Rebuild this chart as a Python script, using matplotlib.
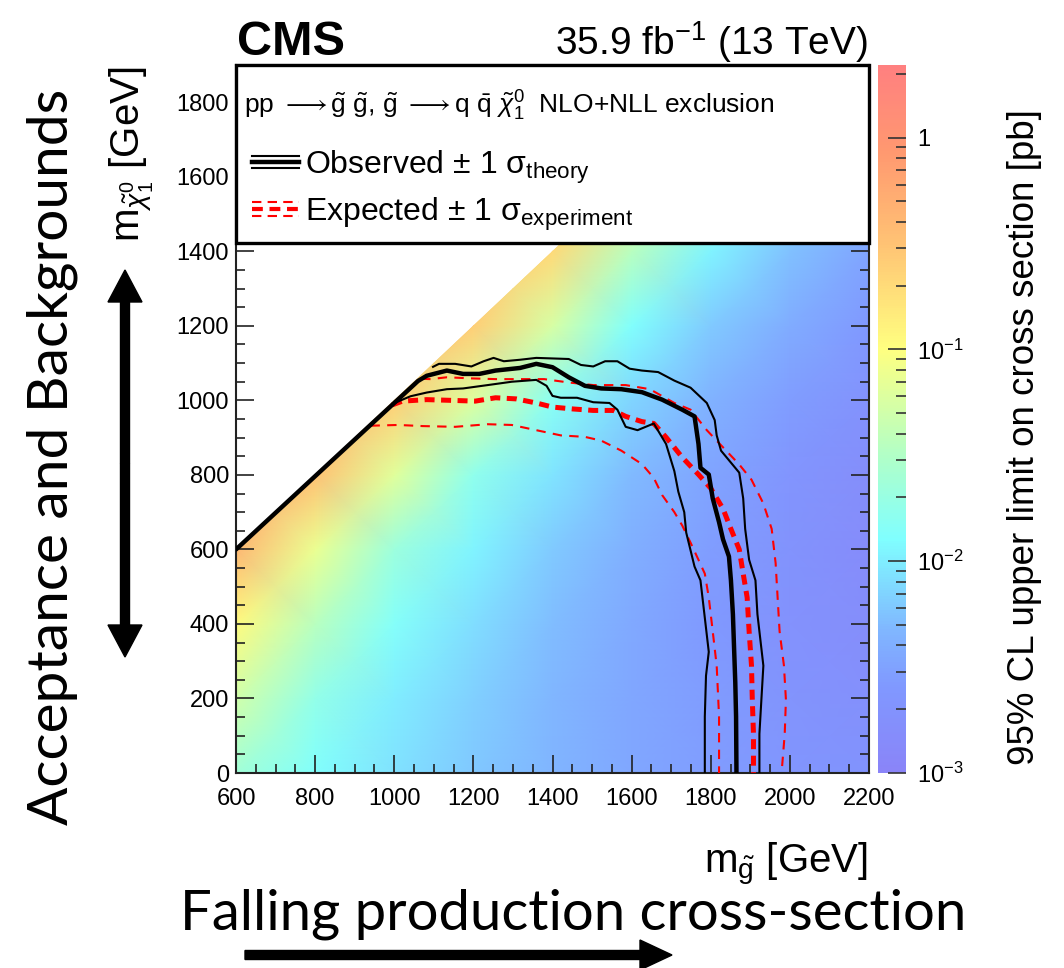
import numpy as np
import matplotlib
matplotlib.use("Agg")
import matplotlib.pyplot as plt
from matplotlib.colors import LinearSegmentedColormap, LogNorm
from matplotlib.patches import Polygon, Rectangle, FancyArrow
from matplotlib.lines import Line2D
from matplotlib.transforms import IdentityTransform
from matplotlib.ticker import MultipleLocator, FixedLocator, FuncFormatter, NullFormatter

plt.rcParams['font.family'] = ['Liberation Sans', 'DejaVu Sans']
plt.rcParams['mathtext.fontset'] = 'custom'
plt.rcParams['mathtext.rm'] = 'Liberation Sans'
plt.rcParams['mathtext.it'] = 'Liberation Sans:italic'
plt.rcParams['mathtext.bf'] = 'Liberation Sans:bold'
plt.rcParams['mathtext.sf'] = 'Liberation Sans'

# ---------------- data ----------------
m_gluino = [600, 800, 1000, 1200, 1400, 1600, 1800, 2000, 2200]
m_lsp = [0, 200, 400, 600, 800, 1000, 1200, 1400, 1600, 1800]
# 95% CL upper limit on cross section [pb], rows = m_lsp, cols = m_gluino
xsec_limit = [
    [0.024, 0.013, 0.0085, 0.006, 0.0045, 0.0035, 0.0028, 0.0023, 0.0020],
    [0.050, 0.018, 0.010, 0.0068, 0.0047, 0.0035, 0.0027, 0.0021, 0.0018],
    [0.11, 0.035, 0.014, 0.008, 0.0052, 0.0036, 0.0026, 0.0019, 0.0016],
    [0.40, 0.075, 0.022, 0.011, 0.0062, 0.0040, 0.0028, 0.0020, 0.0015],
    [0.60, 0.32, 0.065, 0.017, 0.0088, 0.0050, 0.0033, 0.0022, 0.0016],
    [0.60, 0.50, 0.25, 0.060, 0.015, 0.0072, 0.0043, 0.0028, 0.0019],
    [0.60, 0.50, 0.40, 0.25, 0.055, 0.013, 0.0062, 0.0038, 0.0025],
    [0.60, 0.50, 0.40, 0.30, 0.20, 0.035, 0.011, 0.0055, 0.0033],
    [0.60, 0.50, 0.40, 0.30, 0.25, 0.15, 0.030, 0.010, 0.005],
    [0.60, 0.50, 0.40, 0.30, 0.25, 0.20, 0.12, 0.030, 0.008],
]

obs_mg = [600, 1060, 1082, 1133, 1174, 1215, 1256, 1318, 1359, 1400, 1441, 1482, 1523, 1574,
          1626, 1677, 1728, 1759, 1769, 1774, 1795, 1805, 1821, 1831, 1846, 1851, 1856, 1859,
          1862, 1864, 1865]
obs_mlsp = [600, 1052, 1066, 1080, 1071, 1071, 1080, 1087, 1098, 1089, 1062, 1039, 1032, 1030,
            1022, 1002, 975, 957, 883, 819, 801, 737, 673, 627, 581, 517, 426, 334,
            243, 151, 0]

obs_up_mg = [1098, 1113, 1154, 1195, 1226, 1251, 1277, 1318, 1359, 1441, 1472, 1503, 1533, 1564,
             1595, 1626, 1667, 1708, 1749, 1790, 1810, 1815, 1826, 1872, 1882, 1887, 1897, 1913,
             1918, 1928, 1933, 1928, 1923, 1923]
obs_up_mlsp = [1090, 1098, 1098, 1091, 1105, 1114, 1105, 1109, 1114, 1111, 1095, 1091, 1105, 1105,
               1085, 1080, 1076, 1053, 1034, 993, 947, 906, 865, 806, 737, 655, 572, 517,
               426, 334, 288, 197, 105, 0]

obs_dn_mg = [1005, 1041, 1082, 1133, 1174, 1236, 1297, 1359, 1385, 1400, 1421, 1462, 1503, 1544,
             1564, 1585, 1615, 1656, 1687, 1708, 1718, 1733, 1738, 1759, 1774, 1795, 1788, 1785,
             1785]
obs_dn_mlsp = [995, 1011, 1021, 1030, 1032, 1041, 1050, 1055, 1039, 1012, 1007, 1007, 995, 993,
               975, 929, 920, 938, 883, 810, 755, 700, 645, 554, 517, 325, 261, 151,
               0]

exp_mg = [995, 1021, 1082, 1144, 1205, 1256, 1308, 1359, 1400, 1451, 1503, 1554, 1585, 1626,
          1656, 1687, 1728, 1769, 1800, 1831, 1851, 1872, 1882, 1892, 1897, 1903, 1905, 1908,
          1908]
exp_mlsp = [988, 998, 1002, 1000, 998, 1007, 1004, 993, 982, 977, 973, 973, 957, 943,
            938, 901, 847, 801, 764, 709, 655, 600, 535, 471, 380, 288, 197, 105,
            0]

exp_up_mg = [1068, 1092, 1133, 1195, 1256, 1318, 1379, 1441, 1503, 1585, 1646, 1708, 1749, 1790,
             1831, 1872, 1903, 1933, 1954, 1964, 1969, 1974, 1985, 1990, 1987, 1979]
exp_up_mlsp = [1058, 1057, 1062, 1059, 1057, 1057, 1057, 1048, 1041, 1041, 1030, 993, 975, 920,
               874, 828, 787, 723, 655, 563, 471, 380, 288, 197, 105, 0]

exp_dn_mg = [940, 1010, 1072, 1154, 1236, 1297, 1359, 1421, 1482, 1523, 1574, 1626, 1656, 1677,
             1708, 1728, 1749, 1769, 1785, 1795, 1805, 1815, 1821, 1821]
exp_dn_mlsp = [932, 934, 931, 929, 936, 934, 920, 906, 902, 892, 865, 829, 792, 746,
               700, 664, 618, 572, 535, 471, 380, 288, 151, 0]

x_ticks = [600, 800, 1000, 1200, 1400, 1600, 1800, 2000, 2200]
y_ticks = [0, 200, 400, 600, 800, 1000, 1200, 1400, 1600, 1800]
z_ticks = [1e-3, 1e-2, 1e-1, 1]
z_ticklabels = [r"$10^{-3}$", r"$10^{-2}$", r"$10^{-1}$", "1"]

# ---------------- figure ----------------
W, H = 1064, 968
fig = plt.figure(figsize=(W / 100, H / 100), dpi=100)

def fx(px):
    return px / W

def fy(py):
    return 1 - py / H

ax_l, ax_r, ax_t, ax_b = 236, 869, 65, 773
ax = fig.add_axes([fx(ax_l), fy(ax_b), (ax_r - ax_l) / W, (ax_b - ax_t) / H])
cax = fig.add_axes([fx(878), fy(ax_b), (906 - 878) / W, (ax_b - ax_t) / H])

cmap = LinearSegmentedColormap.from_list("cms", [
    (0.00, "#8a84f8"),
    (0.12, "#8098ff"),
    (0.20, "#80b6ff"),
    (0.33, "#80ffff"),
    (0.45, "#b2ffc6"),
    (0.60, "#ffff80"),
    (0.75, "#ffc274"),
    (0.88, "#ff9870"),
    (1.00, "#ff8080"),
])
norm = LogNorm(vmin=1e-3, vmax=2.2)

X, Y = np.meshgrid(m_gluino, m_lsp)
Z = np.array(xsec_limit)
mesh = ax.pcolormesh(X, Y, Z, shading='gouraud', cmap=cmap, norm=norm, zorder=1)
clip = Polygon([(600, 0), (2200, 0), (2200, 1900), (1900, 1900), (600, 600)],
               closed=True, transform=ax.transData)
mesh.set_clip_path(clip)

ax.set_xlim(600, 2200)
ax.set_ylim(0, 1900)

red_thick = (0, (2.0, 1.3))
red_thin = (0, (4.5, 3.5))
ax.plot(exp_up_mg, exp_up_mlsp, color='red', lw=1.5, ls=red_thin, zorder=3)
ax.plot(exp_dn_mg, exp_dn_mlsp, color='red', lw=1.5, ls=red_thin, zorder=3)
ax.plot(exp_mg, exp_mlsp, color='red', lw=3.6, ls=red_thick, zorder=3)
ax.plot(obs_up_mg, obs_up_mlsp, color='black', lw=1.5, zorder=4)
ax.plot(obs_dn_mg, obs_dn_mlsp, color='black', lw=1.5, zorder=4)
ax.plot(obs_mg, obs_mlsp, color='black', lw=3.2, zorder=4, solid_capstyle='round')

# ticks
ax.xaxis.set_major_locator(FixedLocator(x_ticks))
ax.xaxis.set_minor_locator(MultipleLocator(50))
ax.yaxis.set_major_locator(FixedLocator(y_ticks))
ax.yaxis.set_minor_locator(MultipleLocator(50))
ax.tick_params(which='both', direction='in', top=True, right=True, color='#222222',
               width=1.2, labelsize=17, pad=5)
ax.tick_params(which='major', length=13)
ax.tick_params(which='minor', length=6.5)
ax.tick_params(axis='x', pad=11)
for s in ax.spines.values():
    s.set_linewidth(1.5)
    s.set_color('#222222')

# legend box
box_bottom = 1422 / 1900
ax.add_patch(Rectangle((0, box_bottom), 1, 1 - box_bottom, transform=ax.transAxes,
                       facecolor='white', edgecolor='black', lw=2.4, zorder=5, clip_on=False))

# colorbar
cb = fig.colorbar(mesh, cax=cax)
cb.outline.set_visible(False)
cax.yaxis.set_ticks_position('right')
cax.yaxis.set_major_locator(FixedLocator(z_ticks))
minor = [m * 10.0 ** e for e in range(-3, 1) for m in range(2, 10) if m * 10.0 ** e <= 2.2]
cax.yaxis.set_minor_locator(FixedLocator(minor))
cax.yaxis.set_major_formatter(FuncFormatter(lambda v, p: z_ticklabels[z_ticks.index(v)] if v in z_ticks else ""))
cax.yaxis.set_minor_formatter(NullFormatter())
cax.tick_params(which='both', direction='in', color='#333333', width=1.2, labelsize=17, pad=8)
cax.tick_params(which='major', length=13)
cax.tick_params(which='minor', length=7)

# texts
fig.text(fx(237), fy(55), "CMS", fontsize=35, fontweight='bold', ha='left', va='baseline')
fig.text(fx(868), fy(55), r"35.9 fb$^{-1}$ (13 TeV)", fontsize=28, ha='right', va='baseline')

fig.text(fx(244), fy(114),
         r"pp $\longrightarrow\tilde{\mathrm{g}}$ $\tilde{\mathrm{g}}$, $\tilde{\mathrm{g}}$ $\longrightarrow$q $\bar{\mathrm{q}}$ $\tilde{\chi}^{0}_{1}$  NLO+NLL exclusion",
         fontsize=19, ha='left', va='baseline', zorder=10)
fig.text(fx(305), fy(174), r"Observed $\pm$ 1 $\mathrm{\sigma}_{\mathrm{theory}}$",
         fontsize=23, ha='left', va='baseline', zorder=10)
fig.text(fx(305), fy(221), r"Expected $\pm$ 1 $\mathrm{\sigma}_{\mathrm{experiment}}$",
         fontsize=23, ha='left', va='baseline', zorder=10)

for yy, lw in [(156, 1.5), (162, 3.2), (168, 1.5)]:
    fig.add_artist(Line2D([fx(252), fx(299)], [fy(yy), fy(yy)], color='black', lw=lw,
                          transform=fig.transFigure, zorder=10))
for yy, lw, ls in [(202, 1.5, (0, (4.5, 3.0))), (209, 3.0, (0, (2.6, 1.6))), (216, 1.5, (0, (4.5, 3.0)))]:
    fig.add_artist(Line2D([fx(252), fx(299)], [fy(yy), fy(yy)], color='red', lw=lw, ls=ls,
                          transform=fig.transFigure, zorder=10))

# axis titles
fig.text(fx(868), fy(873), r"m$_{\tilde{\mathrm{g}}}$ [GeV]", fontsize=29, ha='right', va='baseline')
fig.text(fx(132), fy(66), r"m$_{\tilde{\chi}^{0}_{1}}$ [GeV]", fontsize=29, rotation=90,
         ha='center', va='top')
fig.text(fx(1025), fy(437), "95% CL upper limit on cross section [pb]", fontsize=26.5,
         rotation=90, ha='center', va='center')

# annotations
t1 = fig.text(fx(180), fy(930), "Falling production cross-section", fontsize=36,
              family='Lato', ha='left', va='baseline')
t2 = fig.text(fx(52), fy(825), "Acceptance and Backgrounds", fontsize=36,
              family='Lato', rotation=90, ha='center', va='bottom')
fig.canvas.draw()
r = fig.canvas.get_renderer()
w1 = t1.get_window_extent(r).width
t1.set_fontsize(36 * 788 / w1)
h2 = t2.get_window_extent(r).height
t2.set_fontsize(36 * 735 / h2)

idt = IdentityTransform()
fig.add_artist(FancyArrow(245, H - 955, 427, 0, width=9, head_width=30, head_length=32,
                          length_includes_head=True, color='black', transform=idt))
mid = (270 + 657) / 2
fig.add_artist(FancyArrow(125, H - mid, 0, mid - 270, width=9, head_width=34, head_length=32,
                          length_includes_head=True, color='black', transform=idt))
fig.add_artist(FancyArrow(125, H - mid, 0, -(657 - mid), width=9, head_width=34, head_length=32,
                          length_includes_head=True, color='black', transform=idt))

fig.savefig("out.png", dpi=100)
